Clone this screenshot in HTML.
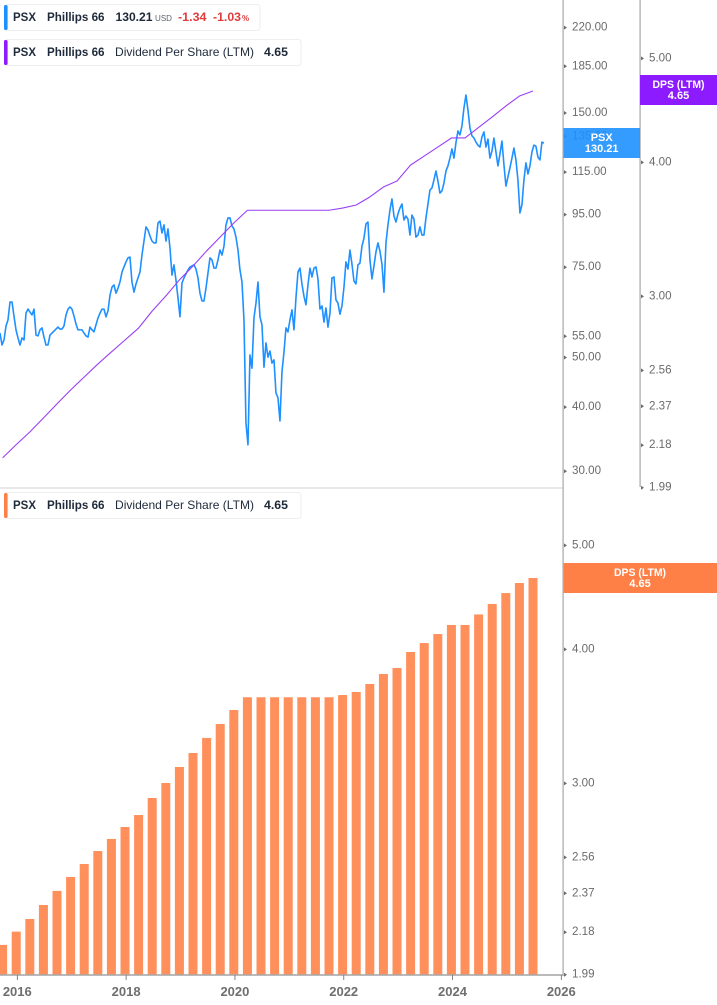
<!DOCTYPE html>
<html lang="en">
<head>
<meta charset="utf-8">
<title>PSX price and dividend per share</title>
<style>
html,body{margin:0;padding:0;background:#fff;width:717px;height:1005px;overflow:hidden}
svg{display:block;font-family:"Liberation Sans",sans-serif}
.tick-label{font-size:11.6px;fill:#6b6b6b}
.year-label{font-size:13px;font-weight:bold;fill:#6f6f6f;text-anchor:middle}
.flag-text{font-size:11px;font-weight:bold;fill:#fff;text-anchor:middle}
.lg{font-size:12px;fill:#1e2a3a}
.lgb{font-size:12px;font-weight:bold;fill:#1e2a3a}
.lgr{font-size:12px;font-weight:bold;fill:#e03c3c}
</style>
</head>
<body>
<svg id="chart" width="717" height="1005" viewBox="0 0 717 1005" xmlns="http://www.w3.org/2000/svg">
  <rect x="0" y="0" width="717" height="1005" fill="#fff"/>
  <g id="price-ticks"></g>
  <g id="dps-top-ticks"></g>
  <g id="dps-bottom-ticks"></g>
  <g id="bars"></g>
  <path id="price-line" fill="none" stroke="#1e90ff" stroke-width="1.6" stroke-linejoin="round"/>
  <path id="dps-line" fill="none" stroke="#9a3ff5" stroke-width="1.1" stroke-linejoin="round"/>
  <rect x="0" y="487.2" width="563" height="1.6" fill="#e3e3e3"/>
  <rect x="562.4" y="0" width="1.4" height="976" fill="#b3b3b3"/>
  <rect x="639.4" y="0" width="1.4" height="487" fill="#b3b3b3"/>
  <rect x="0" y="974.2" width="563" height="1.6" fill="#a9a9a9"/>
  <g id="x-ticks"></g>

  <g>
    <rect x="563.5" y="128" width="76.5" height="30" fill="#1e90ff" fill-opacity="0.9"/>
    <text class="flag-text" x="601.7" y="141">PSX</text>
    <text class="flag-text" x="601.7" y="152">130.21</text>
  </g>
  <g>
    <rect x="640" y="75" width="77" height="30" fill="#8c1cff"/>
    <text class="flag-text" x="678.5" y="88" textLength="52" lengthAdjust="spacingAndGlyphs">DPS (LTM)</text>
    <text class="flag-text" x="678.5" y="99">4.65</text>
  </g>
  <g>
    <rect x="563.5" y="563" width="153.5" height="30" fill="#ff8047"/>
    <text class="flag-text" x="640" y="576" textLength="52" lengthAdjust="spacingAndGlyphs">DPS (LTM)</text>
    <text class="flag-text" x="640" y="587">4.65</text>
  </g>

  <g>
    <rect x="4.5" y="4.5" width="255.5" height="26" rx="3" fill="#fff" stroke="#eeeeee"/>
    <rect x="4" y="5" width="3.6" height="25" rx="1.5" fill="#1e90ff"/>
    <text class="lgb" x="13" y="21" textLength="23" lengthAdjust="spacingAndGlyphs">PSX</text>
    <text class="lgb" x="47" y="21" textLength="57.5" lengthAdjust="spacingAndGlyphs">Phillips 66</text>
    <text class="lgb" x="115.5" y="21" textLength="37" lengthAdjust="spacingAndGlyphs">130.21</text>
    <text x="155" y="21" font-size="8" fill="#5c6470" textLength="17" lengthAdjust="spacingAndGlyphs">USD</text>
    <text class="lgr" x="178" y="21" textLength="28.5" lengthAdjust="spacingAndGlyphs">-1.34</text>
    <text class="lgr" x="213" y="21" textLength="28" lengthAdjust="spacingAndGlyphs">-1.03</text>
    <text x="242" y="21" font-size="8" font-weight="bold" fill="#e03c3c">%</text>
  </g>
  <g>
    <rect x="4.5" y="39.5" width="296.5" height="26" rx="3" fill="#fff" stroke="#eeeeee"/>
    <rect x="4" y="40" width="3.6" height="25" rx="1.5" fill="#8c1cff"/>
    <text class="lgb" x="13" y="56" textLength="23" lengthAdjust="spacingAndGlyphs">PSX</text>
    <text class="lgb" x="47" y="56" textLength="57.5" lengthAdjust="spacingAndGlyphs">Phillips 66</text>
    <text class="lg" x="115" y="56" textLength="139" lengthAdjust="spacingAndGlyphs">Dividend Per Share (LTM)</text>
    <text class="lgb" x="264" y="56" textLength="24" lengthAdjust="spacingAndGlyphs">4.65</text>
  </g>
  <g>
    <rect x="4.5" y="492.5" width="296.5" height="26" rx="3" fill="#fff" stroke="#eeeeee"/>
    <rect x="4" y="493" width="3.6" height="25" rx="1.5" fill="#ff8047"/>
    <text class="lgb" x="13" y="509" textLength="23" lengthAdjust="spacingAndGlyphs">PSX</text>
    <text class="lgb" x="47" y="509" textLength="57.5" lengthAdjust="spacingAndGlyphs">Phillips 66</text>
    <text class="lg" x="115" y="509" textLength="139" lengthAdjust="spacingAndGlyphs">Dividend Per Share (LTM)</text>
    <text class="lgb" x="264" y="509" textLength="24" lengthAdjust="spacingAndGlyphs">4.65</text>
  </g>
</svg>
<script>
var yearTicks = [2016, 2018, 2020, 2022, 2024, 2026];
var priceTicks = [220, 185, 150, 135, 115, 95, 75, 55, 50, 40, 30];
var dpsTicks = [5, 4, 3, 2.56, 2.37, 2.18, 1.99];

var dpsDates = [2015.73,2015.98,2016.23,2016.48,2016.73,2016.98,2017.23,2017.48,2017.73,2017.98,
2018.23,2018.48,2018.73,2018.98,2019.23,2019.48,2019.73,2019.98,2020.23,2020.48,
2020.73,2020.98,2021.23,2021.48,2021.73,2021.98,2022.23,2022.48,2022.73,2022.98,
2023.23,2023.48,2023.73,2023.98,2024.23,2024.48,2024.73,2024.98,2025.23,2025.48];

var dpsValues = [2.116,2.177,2.237,2.305,2.376,2.448,2.517,2.588,2.656,2.725,
2.796,2.900,2.995,3.100,3.194,3.299,3.399,3.503,3.60,3.60,
3.60,3.60,3.60,3.60,3.60,3.617,3.641,3.704,3.784,3.833,
3.967,4.044,4.123,4.204,4.204,4.300,4.398,4.502,4.600,4.65];

var priceStartYear = 2015.682;
var priceStepYears = 0.03676;
var priceValues = [
55.5,52.6,53.8,57.3,58.9,63.8,63.8,59.9,56.3,54.3,52.6,54.3,53.8,60.7,61.8,61.0,60.2,61.8,55.0,54.8,
56.3,56.8,54.5,52.6,52.6,55.0,55.5,56.0,56.5,57.0,56.5,56.5,57.3,60.2,61.8,62.4,61.8,59.9,57.8,56.3,
56.3,56.3,55.5,54.8,54.5,57.0,56.3,55.8,57.6,59.4,60.7,61.8,61.8,59.7,61.3,65.8,68.2,68.9,66.4,67.9,
69.8,73.0,74.7,76.4,77.8,78.1,69.8,66.7,69.2,71.1,73.0,78.8,83.9,89.4,88.2,85.8,83.9,83.2,83.2,91.0,
91.8,87.0,90.2,83.9,88.6,81.3,72.0,75.4,70.4,65.0,59.7,69.5,71.1,72.4,73.7,74.7,75.0,75.4,74.0,71.1,
66.4,64.1,64.1,67.9,72.7,77.8,77.1,74.3,74.3,77.1,80.6,78.8,82.0,90.2,93.1,93.1,89.8,88.6,85.4,80.6,
73.7,69.8,58.9,37.0,33.6,50.3,47.4,59.4,63.5,69.8,59.7,57.6,47.6,53.1,49.8,51.2,48.5,49.2,42.4,41.5,
37.4,46.6,50.9,56.8,55.8,58.9,61.6,56.3,65.0,73.0,74.3,69.2,65.5,63.0,68.9,74.3,71.4,74.3,74.7,70.8,
61.8,62.7,58.3,62.1,57.0,60.7,71.1,71.4,64.4,63.5,60.4,62.7,68.2,76.4,74.0,80.6,75.7,70.1,69.2,75.4,
76.0,82.0,85.0,90.6,91.4,77.1,70.8,75.0,79.9,83.2,80.2,75.7,66.7,83.2,90.2,96.5,101.4,93.9,91.4,94.8,
97.3,99.1,92.2,93.9,92.6,86.2,94.3,92.6,85.4,86.2,89.4,86.2,86.2,93.1,99.1,105.5,106.5,110.4,114.9,109.9,
104.1,105.1,108.9,114.9,117.6,121.8,126.9,121.8,130.4,137.6,135.2,140.7,152.5,161.7,151.2,139.4,134.6,133.3,130.9,129.1,
128.0,133.9,137.0,128.0,132.7,121.8,125.7,133.3,125.2,117.6,124.0,131.5,118.2,107.4,111.9,116.6,121.8,127.4,120.8,110.4,
95.2,98.7,110.4,119.2,113.4,117.6,125.2,129.1,128.5,122.3,120.8,130.9,130.21
];

var SVGNS = 'http://www.w3.org/2000/svg';

function xScale(year) { return 17.3 + 54.4 * (year - 2016); }
function priceY(v) { return 470 - 222.6 * Math.log(v / 30); }
function dpsTopY(v) { return 486.5 - 466 * Math.log(v / 1.99); }
function dpsBottomY(v) { return 973.5 - 466 * Math.log(v / 1.99); }

function make(tag, parent) {
  var el = document.createElementNS(SVGNS, tag);
  parent.appendChild(el);
  return el;
}

function drawAxisTicks(parent, ticks, scale, axisX, prefix) {
  ticks.forEach(function (t) {
    var y = scale(t);
    var mark = make('path', parent);
    
    
    mark.setAttribute('d', 'M' + (axisX + 1) + ' ' + (y - 0.8) + 'l3 2l-3 2z');
    mark.setAttribute('fill', '#6b6b6b');
    var label = make('text', parent);
    
    
    label.setAttribute('class', 'tick-label');
    label.setAttribute('x', axisX + 9);
    label.setAttribute('y', y + 4.2);
    label.textContent = t.toFixed(2);
  });
}

drawAxisTicks(document.getElementById('price-ticks'), priceTicks, priceY, 563, 'price-axis');
drawAxisTicks(document.getElementById('dps-top-ticks'), dpsTicks, dpsTopY, 640, 'top-dps-axis');
drawAxisTicks(document.getElementById('dps-bottom-ticks'), dpsTicks, dpsBottomY, 563, 'bottom-dps-axis');

var barsGroup = document.getElementById('bars');
dpsValues.forEach(function (v, i) {
  var top = dpsBottomY(v);
  var bar = make('rect', barsGroup);
  
  
  bar.setAttribute('x', xScale(dpsDates[i]) - 4.5);
  bar.setAttribute('y', top);
  bar.setAttribute('width', 9);
  bar.setAttribute('height', 974.5 - top);
  bar.setAttribute('fill', '#ff8f5b');
});

var pricePath = priceValues.map(function (v, i) {
  var year = priceStartYear + i * priceStepYears;
  return (i ? 'L' : 'M') + xScale(year).toFixed(2) + ' ' + priceY(v).toFixed(2);
}).join('');
document.getElementById('price-line').setAttribute('d', pricePath);

var dpsPath = dpsValues.map(function (v, i) {
  return (i ? 'L' : 'M') + xScale(dpsDates[i]).toFixed(2) + ' ' + dpsTopY(v).toFixed(2);
}).join('');
document.getElementById('dps-line').setAttribute('d', dpsPath);

var xGroup = document.getElementById('x-ticks');
yearTicks.forEach(function (yr) {
  var x = xScale(yr);
  var tick = make('rect', xGroup);
  
  
  tick.setAttribute('x', x - 0.4);
  tick.setAttribute('y', 975);
  tick.setAttribute('width', 0.9);
  tick.setAttribute('height', 5);
  tick.setAttribute('fill', '#777');
  var label = make('text', xGroup);
  
  
  label.setAttribute('class', 'year-label');
  label.setAttribute('x', x);
  label.setAttribute('y', 996);
  label.textContent = yr;
});
</script>
</body>
</html>
